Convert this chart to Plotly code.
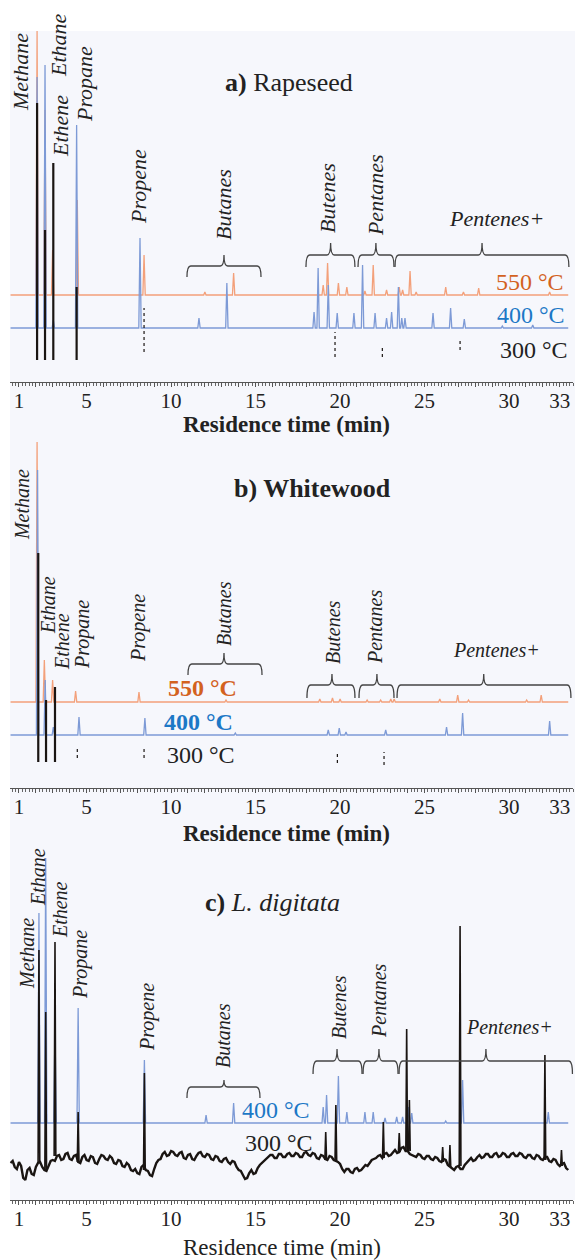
import plotly.graph_objects as go

SERIF = "Liberation Serif"
C_ORANGE = "#f3a07a"
C_ORANGE_TXT = "#d3621f"
C_BLUE = "#7d9ad6"
C_BLUE_TXT = "#1c78c6"
C_BLACK = "#1a1512"
C_BRACE = "#444444"

# ---------------- axis ----------------
tick_vals = list(range(1, 34))
tick_shown = [1, 5, 10, 15, 20, 25, 30, 33]

# ---------------- panel a : Rapeseed ----------------
a_550_t = [2.07, 2.54, 2.99, 4.45, 8.40, 12.0, 13.7, 19.0, 19.26, 19.9, 20.4, 21.47, 21.96,
           22.75, 23.5, 23.7, 24.14, 24.5, 26.25, 27.3, 28.2, 32.4]
a_550_h = [264, 185, 45, 95, 40, 3, 22, 10, 32, 12, 8, 4, 30, 5, 8, 5, 24, 3, 8, 3, 7, 3]
a_400_t = [2.07, 2.54, 3.03, 4.41, 8.16, 11.65, 13.3, 18.46, 18.7, 19.3, 19.83, 20.82, 21.33,
           22.07, 22.75, 23.05, 23.45, 23.65, 23.84, 25.5, 26.54, 27.35, 29.6, 31.4]
a_400_h = [251, 263, 8, 203, 90, 10, 45, 16, 60, 43, 15, 15, 63, 15, 10, 16, 41, 10, 10, 15,
           20, 9, 2, 3]
a_300_t = [2.07, 2.54, 3.03, 4.41]
a_300_top = [279, 152, 219, 95]
a_300_minor_t = [8.40, 19.7, 22.5, 27.1]
a_300_minor_lo = [30, 25, 25, 32]
a_300_minor_hi = [74, 50, 34, 42]

# ---------------- panel b : Whitewood ----------------
b_550_t = [2.07, 2.50, 2.99, 4.35, 8.10, 13.25, 18.8, 19.55, 20.0, 21.6, 22.4, 23.0, 23.2,
           25.9, 26.96, 27.6, 31.04, 31.9]
b_550_h = [260, 42, 22, 11, 10, 2, 3, 4, 3, 2, 2, 3, 3, 3, 7, 2, 2, 7]
b_400_t = [2.10, 2.55, 3.03, 4.55, 8.45, 13.8, 19.3, 19.95, 20.35, 22.7, 26.3, 27.25, 32.4]
b_400_h = [265, 55, 8, 18, 17, 2, 5, 7, 3, 5, 8, 22, 14]
b_300_t = [2.14, 2.60, 3.13]
b_300_top = [235, 88, 101]
b_300_minor_t = [4.45, 8.40, 19.84, 22.6]
b_300_minor_lo = [30, 30, 25, 23]
b_300_minor_hi = [40, 40, 35, 36]

# ---------------- panel c : L. digitata ----------------
c_400_t = [2.18, 2.58, 3.13, 4.50, 8.42, 12.07, 13.7, 19.0, 19.2, 19.9, 20.4, 21.47, 21.96,
           22.66, 23.35, 23.7, 24.04, 24.24, 26.25, 27.25, 32.32]
c_400_h = [210, 265, 100, 115, 63, 8, 20, 16, 28, 47, 11, 11, 11, 5, 6, 6, 16, 10, 2, 43, 11]
# noisy 300 °C signal, read at 0.25 min steps from 0.5 min ...
c_300_base_t0 = 0.5
c_300_base_dt = 0.25
c_300_base = [37, 33, 38, 22, 30, 26, 33, 38, 30, 34,
              40, 44, 40, 46, 41, 44, 38, 43, 40, 44,
              37, 41, 44, 40, 42, 36, 39, 33, 35, 29,
              27, 33, 30, 25, 31, 40, 46, 44, 49, 45,
              47, 42, 45, 41, 44, 48, 43, 45, 40, 43,
              38, 42, 36, 38, 30, 25, 22, 30, 27, 35,
              38, 42, 45, 42, 46, 43, 47, 44, 46, 43,
              48, 44, 46, 41, 44, 40, 43, 39, 36, 28,
              31, 27, 32, 30, 35, 37, 41, 44, 42, 47,
              45, 50, 48, 53, 49, 45, 43, 45, 41, 44,
              40, 42, 38, 40, 33, 30, 34, 31, 37, 42,
              40, 45, 43, 46, 43, 47, 44, 46, 43, 47,
              44, 46, 42, 45, 41, 44, 40, 43, 38, 40,
              34, 37, 30]
# ... and the readings half-way between them
c_300_mid = [39, 31, 34, 20, 32, 25, 37, 33, 29, 39,
             39, 45, 41, 47, 40, 45, 37, 45, 39, 43,
             36, 45, 41, 44, 37, 40, 34, 37, 30, 31,
             26, 35, 29, 24, 37, 41, 48, 45, 48, 44,
             48, 41, 46, 40, 47, 44, 46, 41, 44, 39,
             41, 38, 39, 33, 29, 21, 27, 26, 32, 37,
             41, 45, 42, 46, 43, 46, 44, 47, 43, 47,
             45, 47, 42, 45, 41, 44, 40, 38, 31, 31,
             28, 31, 29, 33, 34, 40, 42, 45, 46, 44,
             48, 47, 52, 49, 46, 44, 46, 42, 44, 41,
             43, 39, 41, 35, 31, 33, 31, 35, 40, 39,
             43, 42, 46, 43, 46, 43, 47, 43, 46, 44,
             47, 43, 45, 42, 45, 41, 43, 39, 41, 36,
             36, 32]
c_300_t = [2.18, 2.58, 3.13, 4.50, 8.42, 19.15, 19.75, 22.56, 23.5, 23.94, 24.1, 26.07, 26.5,
           27.1, 32.12, 33.1]
c_300_top = [250, 188, 258, 88, 127, 68, 95, 78, 67, 171, 100, 53, 55, 274, 145, 50]

# ---------------- labels ----------------
label_names = ["Methane", "Ethane", "Ethene", "Propane", "Propene", "Butanes", "Butenes",
               "Pentanes", "Pentenes+"]
a_lab_t = [1.06, 3.31, 3.43, 4.85, 8.04, 13.07, 19.22, 22.07, 29.28]
a_lab_y = [310, 337, 256, 298, 196, 178, 184, 187, 164]
b_lab_t = [1.18, 2.72, 3.54, 4.73, 8.04, 13.13, 19.58, 22.07, 29.28]
b_lab_y = [283, 183, 147, 153, 160, 175, 156, 161, 138]
c_lab_t = [1.47, 2.12, 3.43, 4.61, 8.57, 13.07, 19.93, 22.30, 30.05]
c_lab_y = [247, 323, 290, 235, 183, 165, 193, 200, 173]

# brackets: start, end, centre (min); leg, bar, tip levels
a_br = [(10.94, 15.32, 13.13, 105, 116, 127), (17.98, 20.88, 19.44, 115, 127, 139),
        (21.06, 23.19, 22.12, 115, 127, 139), (23.25, 33.54, 28.40, 115, 127, 139)]
b_br = [(11.0, 15.38, 13.13, 113, 124, 135), (18.04, 20.88, 19.52, 90, 103, 114),
        (21.12, 23.19, 22.18, 90, 103, 114), (23.37, 33.66, 28.50, 90, 103, 114)]
c_br = [(10.94, 15.26, 13.13, 102, 113, 120), (18.4, 21.3, 19.82, 126, 139, 151),
        (21.36, 23.43, 22.30, 126, 139, 151), (23.49, 33.75, 28.63, 126, 139, 151)]

# stacking offsets (visual)
a_off = {"550": 87, "400": 54, "300": 22}
b_off = {"550": 86, "400": 53, "300": 26}
c_off = {"400": 77}


def peak_line(times, heights, base, t0=0.5, t1=33.5, w=0.07):
    xs, ys = [t0], [base]
    for t, h in sorted(zip(times, heights)):
        xs += [t - w, t, t + w]
        ys += [base, base + h, base]
    xs.append(t1)
    ys.append(base)
    return xs, ys


def segments(times, lows, highs):
    xs, ys = [], []
    for t, lo, hi in zip(times, lows, highs):
        xs += [t, t, None]
        ys += [lo, hi, None]
    return xs, ys


fig = go.Figure()


def add_line(xs, ys, color, width, xa, ya, dash="solid"):
    fig.add_trace(go.Scatter(x=xs, y=ys, mode="lines", xaxis=xa, yaxis=ya,
                             line=dict(color=color, width=width, dash=dash),
                             hoverinfo="skip", showlegend=False))


# panel a
x, y = peak_line(a_550_t, a_550_h, a_off["550"]); add_line(x, y, C_ORANGE, 1.3, "x", "y")
x, y = peak_line(a_400_t, a_400_h, a_off["400"]); add_line(x, y, C_BLUE, 1.3, "x", "y")
x, y = segments(a_300_t, [a_off["300"]] * len(a_300_t), a_300_top); add_line(x, y, C_BLACK, 2.2, "x", "y")
x, y = segments(a_300_minor_t, a_300_minor_lo, a_300_minor_hi); add_line(x, y, C_BLACK, 1.2, "x", "y", "dot")

# panel b
x, y = peak_line(b_550_t, b_550_h, b_off["550"]); add_line(x, y, C_ORANGE, 1.3, "x2", "y2")
x, y = peak_line(b_400_t, b_400_h, b_off["400"]); add_line(x, y, C_BLUE, 1.3, "x2", "y2")
x, y = segments(b_300_t, [b_off["300"]] * len(b_300_t), b_300_top); add_line(x, y, C_BLACK, 2.2, "x2", "y2")
x, y = segments(b_300_minor_t, b_300_minor_lo, b_300_minor_hi); add_line(x, y, C_BLACK, 1.2, "x2", "y2", "dot")

# panel c
x, y = peak_line(c_400_t, c_400_h, c_off["400"]); add_line(x, y, C_BLUE, 1.3, "x3", "y3")
nx, ny = [], []
for i, v in enumerate(c_300_base):
    nx.append(c_300_base_t0 + i * c_300_base_dt)
    ny.append(v)
    if i < len(c_300_mid):
        nx.append(c_300_base_t0 + (i + 0.5) * c_300_base_dt)
        ny.append(c_300_mid[i])
add_line(nx, ny, C_BLACK, 2.4, "x3", "y3")
px, py = [], []
for t, top in zip(c_300_t, c_300_top):
    foot = c_300_base[min(len(c_300_base) - 1, round((t - c_300_base_t0) / c_300_base_dt))]
    px += [t - 0.05, t, t + 0.05, None]
    py += [foot, top, foot, None]
add_line(px, py, C_BLACK, 1.6, "x3", "y3")

# ---------------- layout ----------------
# page is 584x1260; the html body adds an 8 px margin, so the figure is 576x1252
OFF = 8
FW, FH = 584 - OFF, 1260 - OFF


def pxx(p):
    return (p - OFF) / FW


def pxy(p):
    return 1 - (p - OFF) / FH


xdom = [pxx(9.7), pxx(573.3)]
ticktext = [str(v) if v in tick_shown else "" for v in tick_vals]


def xaxis(anchor):
    return dict(domain=xdom, range=[0.45, 33.8], anchor=anchor, showline=True,
                linecolor="#555", linewidth=1.2, showgrid=False, zeroline=False,
                tickmode="array", tickvals=tick_vals, ticktext=ticktext, ticks="outside",
                ticklen=4, tickwidth=1, tickcolor="#555", ticklabelstandoff=-4,
                minor=dict(tickmode="linear", tick0=0, dtick=0.2, ticklen=3, ticks="outside",
                           tickcolor="#666", tickwidth=1),
                tickfont=dict(family=SERIF, size=21, color="#222"), fixedrange=True)


def yaxis(bottom_px, top_px, anchor):
    return dict(domain=[pxy(bottom_px), pxy(top_px)], range=[0, bottom_px - top_px],
                visible=False, fixedrange=True, anchor=anchor)


annotations = []
shapes = [dict(type="rect", xref="paper", yref="paper", x0=pxx(10), x1=pxx(575),
               y0=pxy(1200), y1=pxy(31), fillcolor="#f6f7fc", line=dict(width=0),
               layer="below")]


def add_labels(ts, ys, xa, ya, size):
    for name, t, yy in zip(label_names, ts, ys):
        annotations.append(dict(x=t, y=yy, xref=xa, yref=ya, text=f"<i>{name}</i>",
                                showarrow=False, textangle=0 if name == "Pentenes+" else -90,
                                font=dict(family=SERIF, size=size, color="#222"),
                                xanchor="center", yanchor="middle"))


def add_braces(brs, xa, ya):
    r = 0.22
    for t0, t1, tc, yl, yb, yt in brs:
        path = (f"M {t0},{yl} Q {t0},{yb} {t0 + r},{yb} L {tc - r},{yb} Q {tc},{yb} {tc},{yt} "
                f"Q {tc},{yb} {tc + r},{yb} L {t1 - r},{yb} Q {t1},{yb} {t1},{yl}")
        shapes.append(dict(type="path", xref=xa, yref=ya, path=path,
                           line=dict(color=C_BRACE, width=1.3)))


def add_text(text, xp, yp, size, color="#222", xanchor="center"):
    annotations.append(dict(x=pxx(xp), y=pxy(yp), xref="paper", yref="paper", text=text,
                            showarrow=False, xanchor=xanchor, yanchor="middle",
                            font=dict(family=SERIF, size=size, color=color)))


add_labels(a_lab_t, a_lab_y, "x", "y", 22)
add_labels(b_lab_t, b_lab_y, "x2", "y2", 20)
add_labels(c_lab_t, c_lab_y, "x3", "y3", 20)
add_braces(a_br, "x", "y")
add_braces(b_br, "x2", "y2")
add_braces(c_br, "x3", "y3")

# titles
add_text("<b>a)</b> Rapeseed", 289, 82, 26)
add_text("<b>b) Whitewood</b>", 312, 488, 26)
add_text("<b>c)</b> <i>L. digitata</i>", 272, 902, 26)
# axis titles
add_text("<b>Residence time (min)</b>", 286, 424, 23)
add_text("<b>Residence time (min)</b>", 286, 833, 23)
add_text("Residence time (min)", 282, 1247, 23)
# temperature labels
add_text("550 °C", 566, 282, 24, C_ORANGE_TXT, "right")
add_text("400 °C", 567, 315, 24, C_BLUE_TXT, "right")
add_text("300 °C", 570, 350, 24, "#222", "right")
add_text("<b>550 °C</b>", 202, 688, 24, C_ORANGE_TXT)
add_text("<b>400 °C</b>", 198, 722, 24, C_BLUE_TXT)
add_text("300 °C", 201, 755, 24, "#222")
add_text("400 °C", 276, 1110, 24, C_BLUE_TXT)
add_text("300 °C", 279, 1143, 24, "#222")

fig.update_layout(
    width=FW, height=FH, margin=dict(l=0, r=0, t=0, b=0),
    paper_bgcolor="white", plot_bgcolor="rgba(0,0,0,0)", showlegend=False,
    xaxis=xaxis("y"), xaxis2=xaxis("y2"), xaxis3=xaxis("y3"),
    yaxis=yaxis(382, 31, "x"), yaxis2=yaxis(788, 438, "x2"), yaxis3=yaxis(1200, 848, "x3"),
    annotations=annotations, shapes=shapes,
)

fig.write_html("out.html")
